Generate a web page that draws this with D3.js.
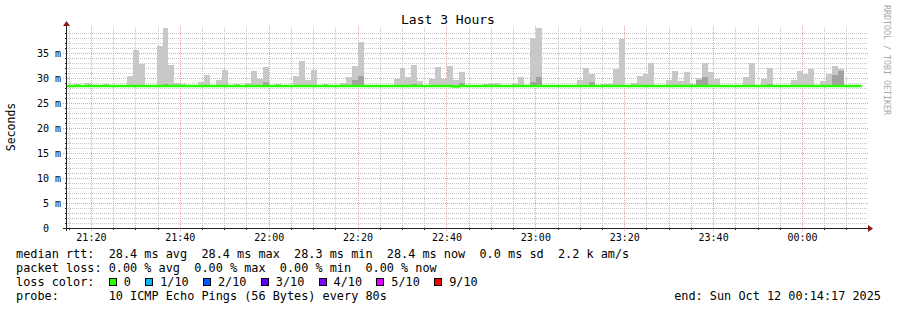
<!DOCTYPE html>
<html>
<head>
<meta charset="utf-8">
<script src="https://cdn.jsdelivr.net/npm/d3@7"></script>
<style>
  html, body { margin: 0; padding: 0; background: #fff; }
  svg { display: block; }
  text { font-family: "DejaVu Sans Mono", monospace; white-space: pre; fill: #000; }
</style>
</head>
<body>
<svg id="chart" width="897" height="310"></svg>
<script>
// time window of the graph and the 80s ping steps
let startTime = new Date(Date.UTC(2025, 9, 11, 21, 14, 17));
let endTime = new Date(Date.UTC(2025, 9, 12, 0, 14, 17));
let firstStep = new Date(Date.UTC(2025, 9, 11, 21, 13, 20));
let stepSeconds = 80;

// smoke: top of the spread per step (ms)
let smokeHi = [
    28.5, 28.5, 28.8, 28.5, 29.1, 28.5, 28.5, 28.8, 28.5, 28.5,
    28.5, 30.4, 35.6, 32.9, 28.5, 28.5, 36.5, 40.1, 32.6, 29.1,
    28.8, 28.5, 28.5, 29.2, 30.6, 28.5, 29.6, 31.6, 28.5, 28.8,
    28.5, 29.0, 31.4, 29.8, 32.2, 28.5, 28.8, 28.5, 28.7, 30.4,
    33.4, 29.6, 31.6, 28.5, 28.8, 28.5, 28.5, 29.0, 30.1, 32.4,
    37.2, 28.5, 28.5, 28.7, 28.5, 28.5, 29.8, 32.0, 30.1, 32.6,
    29.4, 28.5, 29.8, 32.2, 29.8, 32.4, 29.6, 31.1, 28.7, 28.5,
    28.5, 28.8, 29.0, 29.0, 28.5, 28.5, 29.0, 30.1, 28.5, 38.1,
    40.1, 28.6, 28.5, 28.7, 28.7, 28.5, 28.5, 29.6, 32.1, 30.9,
    28.5, 28.8, 28.8, 31.8, 37.8, 28.5, 29.0, 30.4, 30.8, 33.1,
    28.7, 28.5, 29.6, 31.4, 29.4, 31.2, 28.8, 30.0, 33.1, 31.2,
    29.8, 28.5, 28.5, 28.5, 28.5, 30.2, 33.1, 28.5, 29.8, 32.0,
    28.5, 28.5, 28.5, 29.6, 31.4, 30.8, 31.8, 28.5, 29.4, 30.8,
    32.4, 31.8, 28.7, 28.7, 28.5
];

// smoke: top of the dense (darker) part per step (ms)
let smokeMid = [
    28.5, 28.5, 28.5, 28.5, 28.5, 28.5, 28.5, 28.5, 28.5, 28.5,
    28.5, 28.5, 28.5, 28.5, 28.5, 28.5, 28.5, 28.8, 28.5, 28.5,
    28.5, 28.5, 28.5, 28.5, 28.5, 28.5, 28.5, 28.5, 28.5, 28.5,
    28.5, 28.5, 28.5, 28.5, 29.2, 28.5, 28.5, 28.5, 28.5, 28.5,
    28.5, 28.5, 28.5, 28.5, 28.5, 28.5, 28.5, 28.5, 28.5, 29.6,
    30.4, 28.5, 28.5, 28.5, 28.5, 28.5, 28.5, 28.5, 28.5, 28.8,
    28.5, 28.5, 28.5, 28.5, 28.5, 28.5, 28.5, 29.1, 28.5, 28.5,
    28.5, 28.5, 28.5, 28.5, 28.5, 28.5, 28.5, 28.5, 28.5, 29.2,
    30.2, 28.5, 28.5, 28.5, 28.5, 28.5, 28.5, 28.5, 28.5, 29.2,
    28.5, 28.5, 28.5, 28.5, 28.5, 28.5, 28.5, 28.5, 28.5, 28.5,
    28.5, 28.5, 28.5, 28.5, 28.5, 28.5, 28.5, 29.6, 30.2, 28.5,
    28.5, 28.5, 28.5, 28.5, 28.5, 28.5, 28.5, 28.5, 28.5, 28.8,
    28.5, 28.5, 28.5, 28.5, 28.5, 28.5, 28.5, 28.5, 28.5, 28.5,
    30.6, 31.5, 28.5, 28.5, 28.5
];

// smoke: fastest ping per step (ms)
let smokeLo = [
    28.3, 28.3, 28.3, 28.3, 28.3, 28.3, 28.3, 28.3, 28.3, 28.3,
    28.3, 28.3, 28.3, 28.3, 28.3, 28.3, 28.3, 28.3, 28.3, 28.3,
    28.3, 28.3, 28.3, 28.3, 28.3, 28.3, 28.3, 28.3, 28.3, 28.3,
    28.3, 28.3, 28.3, 28.3, 28.3, 28.3, 28.3, 28.3, 28.3, 28.3,
    28.3, 28.3, 28.3, 28.3, 28.3, 28.3, 28.3, 28.3, 28.3, 28.3,
    28.3, 28.3, 28.3, 28.3, 28.3, 28.3, 28.3, 28.3, 28.3, 28.3,
    28.3, 28.3, 28.3, 28.3, 28.3, 28.3, 28.3, 28.3, 28.3, 28.3,
    28.3, 28.3, 28.3, 28.3, 28.3, 28.3, 28.3, 28.3, 28.3, 28.3,
    28.3, 28.3, 28.3, 28.3, 28.3, 28.3, 28.3, 28.3, 28.3, 28.3,
    28.3, 28.3, 28.3, 28.3, 28.3, 28.3, 28.3, 28.3, 28.3, 28.3,
    28.3, 28.3, 28.3, 28.3, 28.3, 28.3, 28.3, 28.3, 28.3, 28.3,
    28.3, 28.3, 28.3, 28.3, 28.3, 28.3, 28.3, 28.3, 28.3, 28.3,
    28.3, 28.3, 28.3, 28.3, 28.3, 28.3, 28.3, 28.3, 28.3, 28.3,
    28.3, 28.3, 28.3, 28.3, 28.3
];

// median rtt per step (ms), all with 0 loss
let medianRtt = [
    28.4, 28.4, 28.4, 28.4, 28.4, 28.4, 28.4, 28.4, 28.4, 28.4,
    28.4, 28.4, 28.4, 28.4, 28.4, 28.4, 28.4, 28.4, 28.4, 28.4,
    28.4, 28.4, 28.4, 28.4, 28.4, 28.4, 28.4, 28.4, 28.4, 28.4,
    28.4, 28.4, 28.4, 28.4, 28.4, 28.4, 28.4, 28.4, 28.4, 28.4,
    28.4, 28.4, 28.4, 28.4, 28.4, 28.4, 28.4, 28.4, 28.4, 28.4,
    28.4, 28.4, 28.4, 28.4, 28.4, 28.4, 28.4, 28.4, 28.4, 28.4,
    28.4, 28.4, 28.4, 28.4, 28.4, 28.4, 28.3, 28.4, 28.4, 28.4,
    28.4, 28.4, 28.4, 28.4, 28.4, 28.4, 28.4, 28.4, 28.4, 28.4,
    28.4, 28.4, 28.4, 28.4, 28.4, 28.4, 28.4, 28.4, 28.4, 28.4,
    28.4, 28.4, 28.4, 28.4, 28.4, 28.4, 28.4, 28.4, 28.4, 28.4,
    28.4, 28.4, 28.4, 28.4, 28.4, 28.4, 28.4, 28.4, 28.4, 28.4,
    28.4, 28.4, 28.4, 28.4, 28.4, 28.4, 28.4, 28.4, 28.4, 28.4,
    28.4, 28.4, 28.4, 28.4, 28.4, 28.4, 28.4, 28.4, 28.4, 28.4,
    28.4, 28.4, 28.4, 28.4, 28.4
];

let yTickValues = [0, 5, 10, 15, 20, 25, 30, 35];
let lossLabels = ["0", "1/10", "2/10", "3/10", "4/10", "5/10", "9/10"];
let lossColors = ["#26ff00", "#00b8ff", "#0059ff", "#5e00ff", "#7e00ff", "#dd00ff", "#ff0000"];

let legendLines = [
    "median rtt:  28.4 ms avg  28.4 ms max  28.3 ms min  28.4 ms now  0.0 ms sd  2.2 k am/s",
    "packet loss: 0.00 % avg  0.00 % max  0.00 % min  0.00 % now",
    "loss color:",
    "probe:       10 ICMP Echo Pings (56 Bytes) every 80s"
];
let endLabel = "end: Sun Oct 12 00:14:17 2025";

function drawChart(view) {
    let left = 66, right = 866, top = 28, bottom = 228;

    let xScale = d3.scaleUtc()
        .domain([startTime, endTime])
        .range([left, right]);

    let yScale = d3.scaleLinear()
        .domain([0, 40])
        .range([bottom, top]);

    // rrdtool snaps grid lines down to the pixel
    let gridX = (t) => Math.floor(xScale(t)) + 0.5;

    view.append("defs").append("clipPath")
        .attr("id", "plot-clip")
        .append("rect")
        .attr("x", left).attr("y", top - 1)
        .attr("width", right - left + 2).attr("height", bottom - top + 1);

    // grid
    let grid = view.append("g").attr("shape-rendering", "crispEdges");
    let minorY = d3.range(1, 40).filter((v) => v % 5 !== 0);
    let majorY = d3.range(5, 40, 5);

    grid.selectAll("line.minor-y").data(minorY).enter()
        .append("line")
        .attr("x1", left).attr("x2", right + 2)
        .attr("y1", (d) => yScale(d) + 0.5).attr("y2", (d) => yScale(d) + 0.5)
        .attr("stroke", "#c6c6c6")
        .attr("stroke-dasharray", "1,1");

    let timeTicks = xScale.ticks(d3.utcMinute.every(5));
    let isMajor = (t) => t.getUTCMinutes() % 20 === 0;

    grid.selectAll("line.minor-x").data(timeTicks.filter((t) => !isMajor(t))).enter()
        .append("line")
        .attr("x1", gridX).attr("x2", gridX)
        .attr("y1", bottom).attr("y2", top - 2)
        .attr("stroke", "#c6c6c6")
        .attr("stroke-dasharray", "1,1");

    grid.selectAll("line.major-y").data(majorY).enter()
        .append("line")
        .attr("x1", left - 3).attr("x2", right + 2)
        .attr("y1", (d) => yScale(d) + 0.5).attr("y2", (d) => yScale(d) + 0.5)
        .attr("stroke", "#ee9c9c")
        .attr("stroke-dasharray", "1,1");

    grid.selectAll("line.major-x").data(timeTicks.filter(isMajor)).enter()
        .append("line")
        .attr("x1", gridX).attr("x2", gridX)
        .attr("y1", bottom + 3).attr("y2", top - 2)
        .attr("stroke", "#ee9c9c")
        .attr("stroke-dasharray", "1,1");

    // smoke
    let steps = smokeHi.map((hi, i) => ({
        t0: d3.utcSecond.offset(firstStep, i * stepSeconds),
        t1: d3.utcSecond.offset(firstStep, (i + 1) * stepSeconds),
        lo: smokeLo[i],
        mid: smokeMid[i],
        hi: hi,
        median: medianRtt[i]
    }));

    let smoke = view.append("g")
        .attr("clip-path", "url(#plot-clip)")
        .attr("shape-rendering", "crispEdges");

    let barX = (d) => Math.max(left, Math.round(xScale(d.t0)));
    let barW = (d) => Math.round(xScale(d.t1)) - barX(d);

    smoke.selectAll("rect.light").data(steps).enter()
        .append("rect")
        .attr("x", barX)
        .attr("width", barW)
        .attr("y", (d) => Math.round(yScale(d.hi)))
        .attr("height", (d) => Math.round(yScale(d.lo)) - Math.round(yScale(d.hi)))
        .attr("fill", "#c8c8c8");

    smoke.selectAll("rect.dark").data(steps.filter((d) => d.mid > d.lo)).enter()
        .append("rect")
        .attr("x", barX)
        .attr("width", barW)
        .attr("y", (d) => Math.round(yScale(d.mid)))
        .attr("height", (d) => Math.round(yScale(d.lo)) - Math.round(yScale(d.mid)))
        .attr("fill", "#a2a2a2");

    // median line, stepped
    let medianPoints = steps.map((d) => [d.t0, d.median]);
    let last = steps[steps.length - 1];
    medianPoints.push([last.t1, last.median]);

    view.append("path")
        .datum(medianPoints)
        .attr("clip-path", "url(#plot-clip)")
        .attr("d", d3.line()
            .x((d) => xScale(d[0]))
            .y((d) => yScale(d[1]))
            .curve(d3.curveStepAfter))
        .attr("fill", "none")
        .attr("stroke", lossColors[0])
        .attr("stroke-width", 2.4);

    // axes
    let axis = view.append("g").attr("shape-rendering", "crispEdges");
    axis.append("line")
        .attr("x1", left - 3).attr("x2", right + 2)
        .attr("y1", bottom + 0.5).attr("y2", bottom + 0.5)
        .attr("stroke", "#222");
    axis.append("line")
        .attr("x1", left + 0.5).attr("x2", left + 0.5)
        .attr("y1", bottom + 3).attr("y2", top - 3)
        .attr("stroke", "#222");
    axis.selectAll("line.xtick").data(timeTicks.filter((t) => !isMajor(t))).enter()
        .append("line")
        .attr("x1", gridX).attr("x2", gridX)
        .attr("y1", bottom).attr("y2", bottom + 2)
        .attr("stroke", "#222");
    axis.selectAll("line.ytick").data(minorY).enter()
        .append("line")
        .attr("x1", left - 1).attr("x2", left)
        .attr("y1", (d) => yScale(d) + 0.5).attr("y2", (d) => yScale(d) + 0.5)
        .attr("stroke", "#222");

    // arrows
    view.append("path")
        .attr("d", `M${right + 2},${bottom - 3} L${right + 7},${bottom + 0.5} L${right + 2},${bottom + 4} Z`)
        .attr("fill", "#8b1c1c");
    view.append("path")
        .attr("d", `M${left - 3},${top - 2} L${left + 0.5},${top - 7} L${left + 4},${top - 2} Z`)
        .attr("fill", "#8b1c1c");

    // tick labels
    view.append("g").selectAll("text").data(timeTicks.filter(isMajor)).enter()
        .append("text")
        .attr("x", (d) => xScale(d))
        .attr("y", 241)
        .attr("text-anchor", "middle")
        .attr("font-size", "10px")
        .text(d3.utcFormat("%H:%M"));

    view.append("g").selectAll("text").data(yTickValues).enter()
        .append("text")
        .attr("x", 61)
        .attr("y", (d) => yScale(d) + 3.5)
        .attr("text-anchor", "end")
        .attr("font-size", "10px")
        .text((d) => d === 0 ? "0  " : d + " m");

    // titles
    view.append("text")
        .attr("x", 448).attr("y", 24)
        .attr("text-anchor", "middle")
        .attr("font-size", "13px")
        .text("Last 3 Hours");

    view.append("text")
        .attr("transform", "translate(15,127) rotate(-90)")
        .attr("text-anchor", "middle")
        .attr("font-size", "11.5px")
        .text("Seconds");

    view.append("text")
        .attr("transform", "translate(884,5) rotate(90)")
        .attr("font-size", "8.3px")
        .style("fill", "#a8a8a8")
        .text("RRDTOOL / TOBI OETIKER");

    // legend
    let charW = 7.134;
    let legend = view.append("g").attr("font-size", "11.85px");
    legend.selectAll("text").data(legendLines).enter()
        .append("text")
        .attr("x", 16)
        .attr("y", (d, i) => 257.5 + i * 14)
        .text((d) => d);

    let cursor = 16 + 13 * charW;
    lossLabels.forEach((label, i) => {
        legend.append("rect")
            .attr("x", Math.round(cursor) + 0.5).attr("y", 278.5)
            .attr("width", 7).attr("height", 7)
            .attr("fill", lossColors[i])
            .attr("stroke", "#000")
            .attr("stroke-width", 1);
        legend.append("text")
            .attr("x", cursor + 15)
            .attr("y", 285.5)
            .text(label);
        cursor += 15 + label.length * charW + 2 * charW;
    });

    legend.append("text")
        .attr("x", 881)
        .attr("y", 299.5)
        .attr("text-anchor", "end")
        .text(endLabel);
}

document.addEventListener("DOMContentLoaded", function (e) {
    drawChart(d3.select("#chart"));
});
</script>
</body>
</html>
